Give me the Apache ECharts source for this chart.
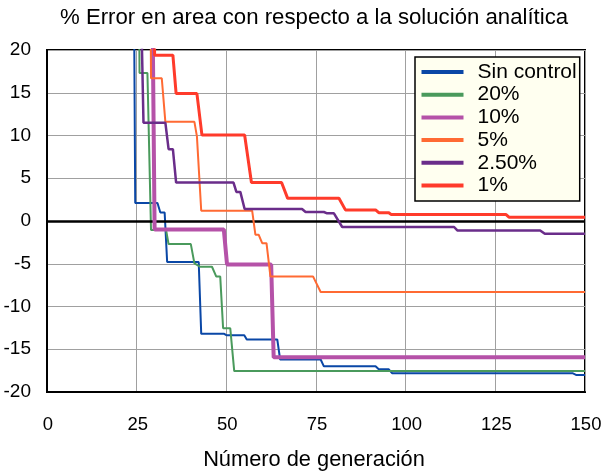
<!DOCTYPE html>
<html><head><meta charset="utf-8">
<script src="https://cdn.jsdelivr.net/npm/echarts@6/dist/echarts.min.js"></script>
<style>html,body{margin:0;padding:0;background:#fff}#c{width:602px;height:471px}</style>
</head><body><div id="c"></div>
<script>
const seriesNames = ['Sin control','20%','10%','5%','2.50%','1%'];
const xTicks = [0,25,50,75,100,125,150];
const yTicks = [-20,-15,-10,-5,0,5,10,15,20];
const sinControl = [[24.2,30],[24.6,2.1],[30.8,2.1],[31.6,1.0],[32.8,1.0],[33.5,-4.8],[42.3,-4.8],[43.0,-13.2],[49.4,-13.2],[50,-13.35],[55,-13.35],[55.7,-13.85],[64.2,-13.85],[65,-16.2],[76.3,-16.2],[77.2,-17.0],[91.6,-17.0],[92.5,-17.35],[95.3,-17.35],[96.2,-17.8],[146.5,-17.8],[147.5,-18.0],[150,-18.0]];
const p20 = [[25.6,30],[25.8,17.3],[28.0,17.3],[29.0,-1.05],[33.2,-1.05],[33.9,-2.7],[40.1,-2.7],[41.1,-4.95],[42.7,-5.35],[46,-5.35],[47.2,-6.5],[48.3,-6.5],[49.1,-12.55],[51.1,-12.55],[52.2,-17.55],[150,-17.55]];
const p10 = [[29.3,30],[30,-1.0],[49.3,-1.0],[50.2,-5.1],[62.5,-5.1],[63.2,-15.95],[150,-15.95]];
const p5 = [[28.8,30],[29.0,16.7],[32,16.7],[33,11.6],[41.1,11.6],[41.8,9.9],[43,1.2],[57.2,1.2],[58.1,-1.6],[59,-1.6],[60,-2.6],[61.2,-2.6],[62.3,-6.5],[74.2,-6.5],[76.3,-8.3],[150,-8.3]];
const p2_5 = [[26,30],[26.9,11.5],[33,11.5],[33.9,8.4],[35.1,8.4],[36,4.5],[52,4.5],[52.8,3.4],[53.9,3.4],[55.1,1.4],[71.1,1.4],[72.1,1.05],[77.2,1.05],[78.1,0.9],[80,0.9],[82.3,-0.7],[113.5,-0.7],[114.4,-1.1],[137.5,-1.1],[138.8,-1.5],[150,-1.5]];
const p1 = [[29.8,30],[30,19.4],[35.1,19.4],[36,14.9],[41.8,14.9],[43.2,10.05],[55.1,10.05],[57,4.5],[65.4,4.5],[67.1,2.65],[81.4,2.65],[83.2,1.3],[91.6,1.3],[92.5,0.97],[95.3,0.97],[96,0.75],[128,0.75],[128.8,0.45],[150,0.45]];

const dataSets = [sinControl,p20,p10,p5,p2_5,p1];
const colors = ['#0a47a6','#4a9a5c','#b552a8','#ff6a33','#6a2d8a','#ff3b2b'];
const widths = [2,2,4,2,2.5,3];
const FONT = 'Liberation Sans, Arial, Helvetica, sans-serif';

const series = dataSets.map((d,i)=>({
  name: seriesNames[i], type:'line', data:d, symbol:'none', showSymbol:false,
  color: colors[i], lineStyle:{color:colors[i], width:widths[i]}, clip:true, z: 3+i
}));
series.push({
  name:'zero', type:'line', data:[], symbol:'none', z:2,
  markLine:{silent:true, symbol:'none', label:{show:false},
    lineStyle:{color:'#000', width:2.5, type:'solid'}, data:[{yAxis:0}]}
});

const chart = echarts.init(document.getElementById('c'), null, {renderer:'canvas'});
chart.setOption({
  animation:false,
  backgroundColor:'#fff',
  title:{text:'% Error en area con respecto a la solución analítica', left:60, top:7, padding:0,
    textStyle:{fontFamily:FONT, fontSize:22.2, fontWeight:'normal', color:'#000'}},
  grid:{left:47, right:17, top:50, bottom:79, show:true, borderColor:'#000', borderWidth:2, backgroundColor:'#fff',
    outerBoundsMode:'none', containLabel:false},
  legend:{data:seriesNames, orient:'vertical', left:415, top:57, icon:'rect', itemWidth:42, itemHeight:4,
    itemGap:1.7, backgroundColor:'#fffff0', borderColor:'#000', borderWidth:1.5, borderRadius:0,
    padding:[4.5,3,5,6.5],
    textStyle:{fontFamily:FONT, fontSize:21, lineHeight:21, color:'#000', padding:[0,0,0,9]}},
  xAxis:{type:'value', min:xTicks[0], max:xTicks[xTicks.length-1], interval:25,
    name:'Número de generación', nameLocation:'middle', nameGap:57,
    nameTextStyle:{fontFamily:FONT, fontSize:21.8, color:'#000', padding:[0,4,0,0]},
    axisLine:{onZero:false, lineStyle:{color:'#000', width:2}}, axisTick:{show:false},
    axisLabel:{fontFamily:FONT, fontSize:18.5, color:'#000', margin:23, padding:[0,0,0,2]},
    splitLine:{show:true, lineStyle:{color:'#a0a0a0', width:1}}},
  yAxis:{type:'value', min:yTicks[0], max:yTicks[yTicks.length-1], interval:5,
    axisLine:{show:true, lineStyle:{color:'#000', width:2}}, axisTick:{show:false},
    axisLabel:{fontFamily:FONT, fontSize:19, color:'#000', margin:16},
    splitLine:{show:true, lineStyle:{color:'#a0a0a0', width:1}}},
  series: series
});
</script></body></html>
